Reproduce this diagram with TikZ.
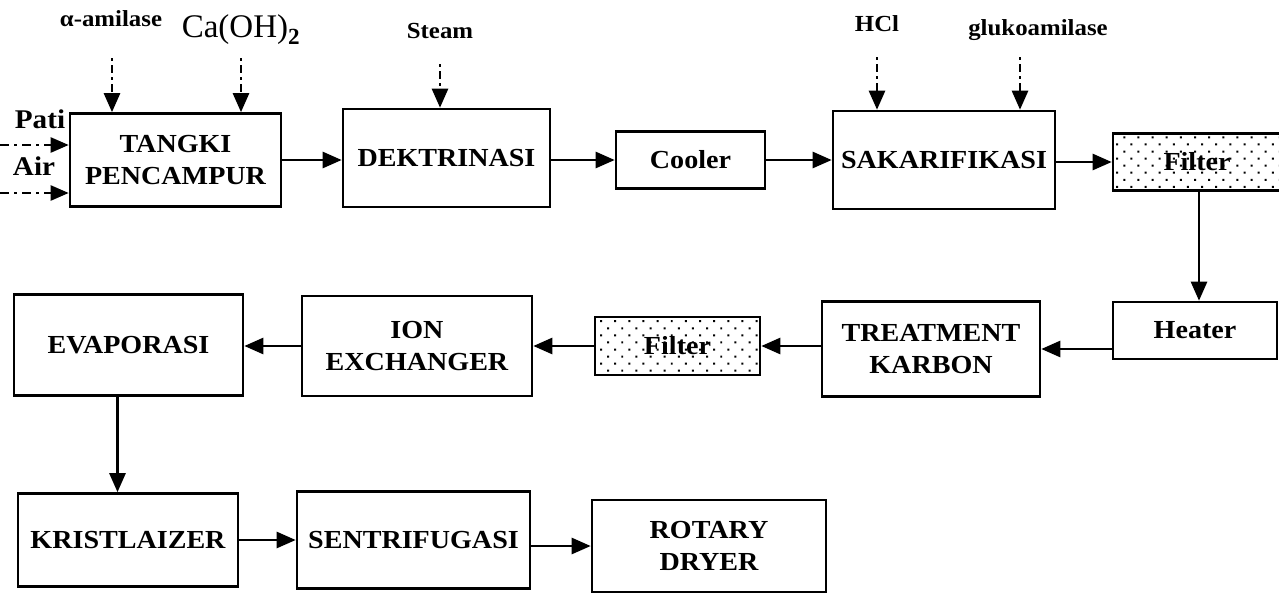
\documentclass[tikz,border=0pt]{standalone}
\usepackage{fontspec}
\setmainfont{Liberation Serif}
\newfontfamily\boxfam{Liberation Serif}[FakeStretch=1.08]
\usetikzlibrary{arrows.meta,patterns.meta}

\tikzset{
  proc/.style={draw, line width=2.6pt, align=center, inner sep=0pt,
    font=\boxfam\bfseries\fontsize{26}{32}\selectfont},
  filterbox/.style={proc, pattern={Dots[distance=10pt, radius=1.4pt, angle=45]}},
  flow/.style={line width=2.6pt, -{Triangle[length=19pt,width=16pt]}},
  feedv/.style={line width=2.6pt, dash pattern=on 3pt off 4pt on 8pt off 4pt,
    -{Triangle[length=19pt,width=16pt]}},
  feedh/.style={line width=2.4pt, dash pattern=on 9pt off 5pt on 3pt off 5pt,
    -{Triangle[length=18pt,width=15pt]}},
  lbl/.style={inner sep=0pt, font=\boxfam\bfseries\fontsize{23}{26}\selectfont},
}

\begin{document}
\begin{tikzpicture}[x=1pt, y=-1pt]
    \useasboundingbox (0,0) rectangle (1279,597);

    % top row
    \node[proc, minimum width=211pt, minimum height=93pt] (tangki) at (175.5,160) {TANGKI\\PENCAMPUR};
    \node[proc, minimum width=207pt, minimum height=98pt] (dekt) at (446.5,158) {DEKTRINASI};
    \node[proc, minimum width=149pt, minimum height=57pt] (cooler) at (690.5,160) {Cooler};
    \node[proc, minimum width=222pt, minimum height=98pt] (sakar) at (944,160) {SAKARIFIKASI};
    \node[filterbox, minimum width=168pt, minimum height=57pt] (filterA) at (1197,162) {Filter};

    % middle row
    \node[proc, minimum width=164pt, minimum height=57pt] (heater) at (1195,330.5) {Heater};
    \node[proc, minimum width=218pt, minimum height=95pt] (treat) at (931,349) {TREATMENT\\KARBON};
    \node[filterbox, minimum width=165pt, minimum height=58pt] (filterB) at (677.5,346) {Filter};
    \node[proc, minimum width=230pt, minimum height=100pt] (ion) at (417,346) {ION\\EXCHANGER};
    \node[proc, minimum width=229pt, minimum height=101pt] (evap) at (128.5,345) {EVAPORASI};

    % bottom row
    \node[proc, minimum width=220pt, minimum height=93pt] (krist) at (128,540) {KRISTLAIZER};
    \node[proc, minimum width=233pt, minimum height=97pt] (sentri) at (413.5,540) {SENTRIFUGASI};
    \node[proc, minimum width=234pt, minimum height=92pt] (rotary) at (709,546) {ROTARY\\DRYER};

    % feed labels
    \node[lbl] (amilLbl) at (111,19) {α-amilase};
    \node[inner sep=0pt, font=\fontsize{33}{36}\selectfont] (caLbl) at (241,30) {Ca(OH)\textsubscript{\bfseries 2}};
    \node[lbl] (steamLbl) at (440,31) {Steam};
    \node[lbl] (hclLbl) at (877,24) {HCl};
    \node[lbl] (glukoLbl) at (1038,30) {glukoamilase};
    \node[lbl, font=\boxfam\bfseries\fontsize{27}{30}\selectfont] (patiLbl) at (40,119) {Pati};
    \node[lbl, font=\boxfam\bfseries\fontsize{27}{30}\selectfont] (airLbl) at (34,166) {Air};

    \coordinate (amilIn) at (112,58);
    \coordinate (caIn) at (241,58);
    \coordinate (steamIn) at (440,64);
    \coordinate (hclIn) at (877,57);
    \coordinate (glukoIn) at (1020,57);
    \coordinate (patiIn) at (0,145);
    \coordinate (airIn) at (0,193);

    \draw[feedv] (amilIn) -- (amilIn |- tangki.north);
    \draw[feedv] (caIn) -- (caIn |- tangki.north);
    \draw[feedv] (steamIn) -- (steamIn |- dekt.north);
    \draw[feedv] (hclIn) -- (hclIn |- sakar.north);
    \draw[feedv] (glukoIn) -- (glukoIn |- sakar.north);
    \draw[feedh] (patiIn) -- (patiIn -| tangki.west);
    \draw[feedh] (airIn) -- (airIn -| tangki.west);

    % process flow
    \draw[flow] (tangki.east) -- (dekt.west |- tangki.east);
    \draw[flow] (dekt.east |- cooler.west) -- (cooler.west);
    \draw[flow] (cooler.east) -- (sakar.west |- cooler.east);
    \draw[flow] (sakar.east |- filterA.west) -- (filterA.west);
    \draw[flow] ([xshift=2pt]filterA.south) -- ([xshift=2pt]filterA.south |- heater.north);
    \draw[flow] (heater.west |- treat.east) -- (treat.east);
    \draw[flow] (treat.west |- filterB.east) -- (filterB.east);
    \draw[flow] (filterB.west) -- (ion.east |- filterB.west);
    \draw[flow] (ion.west) -- (evap.east |- ion.west);
    \draw[flow] ([xshift=-11pt]evap.south) -- ([xshift=-11pt]evap.south |- krist.north);
    \draw[flow] (krist.east) -- (sentri.west);
    \draw[flow] (sentri.east |- rotary.west) -- (rotary.west);
\end{tikzpicture}
\end{document}
